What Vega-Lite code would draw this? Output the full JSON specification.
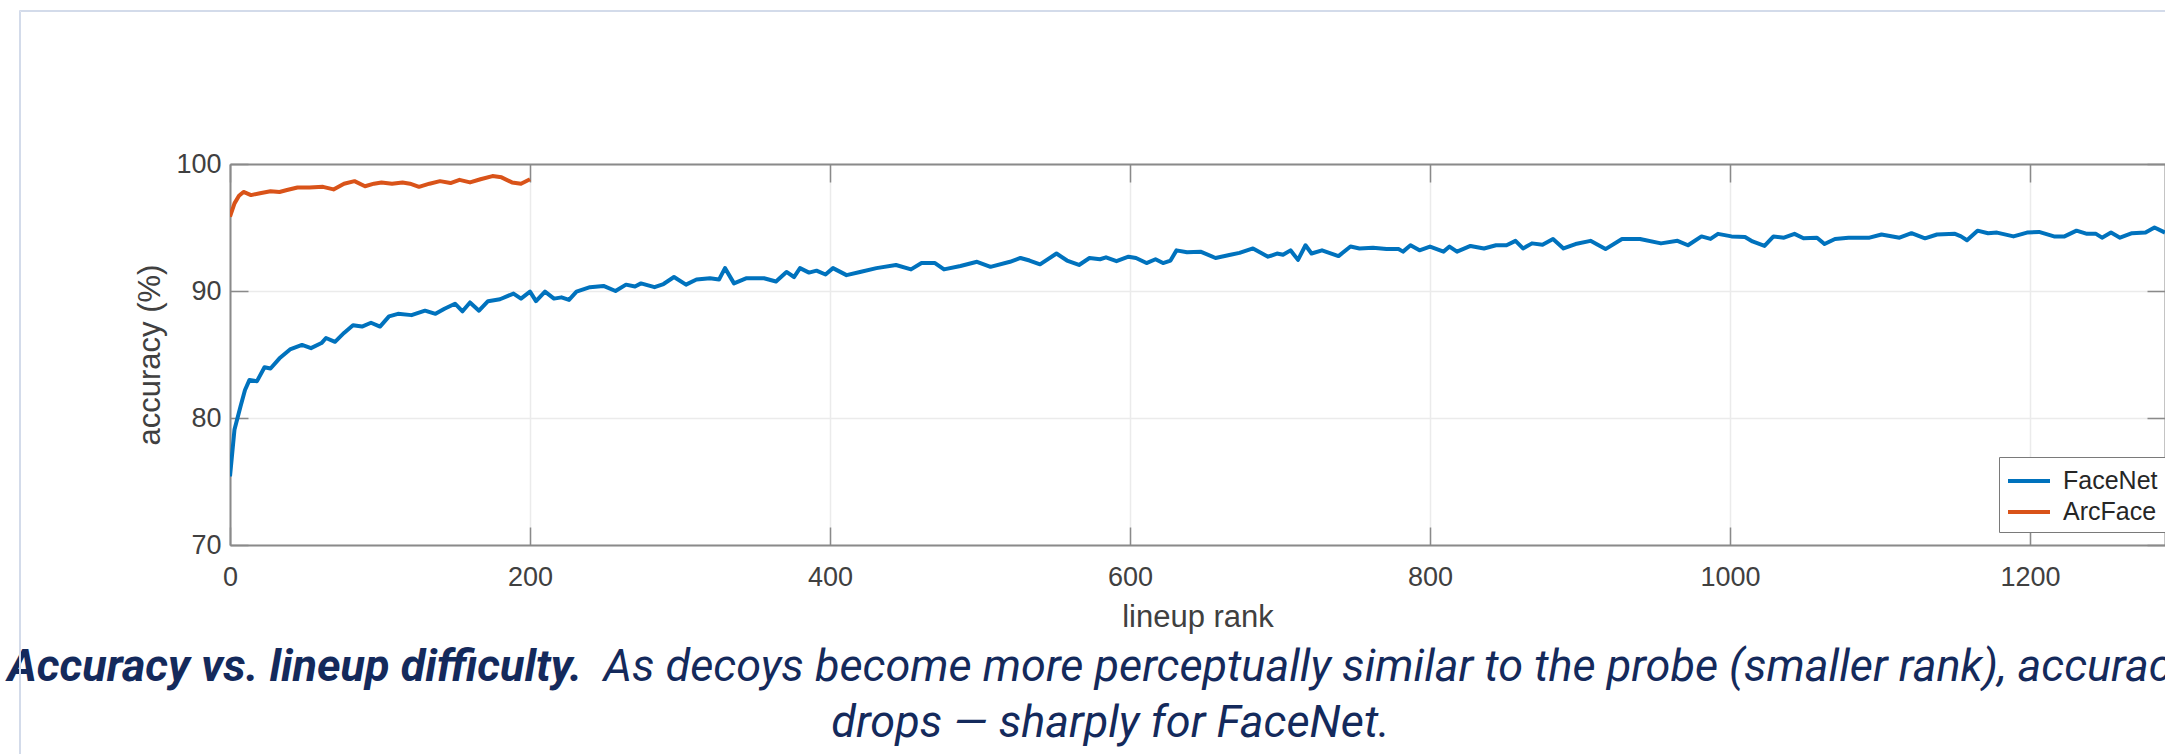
{
  "$schema": "https://vega.github.io/schema/vega-lite/v6.json",
  "width": 1935,
  "height": 381,
  "autosize": {"type": "none"},
  "padding": {"left": 230, "top": 164, "right": 0, "bottom": 209},
  "background": "white",
  "config": {"view": {"stroke": null}},
  "datasets": {
    "curves": [
      {"model": "FaceNet", "rank": 0, "accuracy": 75.4},
      {"model": "FaceNet", "rank": 3, "accuracy": 79.1},
      {"model": "FaceNet", "rank": 7, "accuracy": 80.9},
      {"model": "FaceNet", "rank": 10, "accuracy": 82.2},
      {"model": "FaceNet", "rank": 13, "accuracy": 83.0},
      {"model": "FaceNet", "rank": 18, "accuracy": 82.9},
      {"model": "FaceNet", "rank": 23, "accuracy": 84.0},
      {"model": "FaceNet", "rank": 27, "accuracy": 83.9},
      {"model": "FaceNet", "rank": 33, "accuracy": 84.7},
      {"model": "FaceNet", "rank": 40, "accuracy": 85.4},
      {"model": "FaceNet", "rank": 48, "accuracy": 85.75},
      {"model": "FaceNet", "rank": 54, "accuracy": 85.5},
      {"model": "FaceNet", "rank": 61, "accuracy": 85.9},
      {"model": "FaceNet", "rank": 64, "accuracy": 86.3},
      {"model": "FaceNet", "rank": 70, "accuracy": 86.0},
      {"model": "FaceNet", "rank": 76, "accuracy": 86.7},
      {"model": "FaceNet", "rank": 82, "accuracy": 87.3},
      {"model": "FaceNet", "rank": 88, "accuracy": 87.2},
      {"model": "FaceNet", "rank": 94, "accuracy": 87.5},
      {"model": "FaceNet", "rank": 100, "accuracy": 87.2},
      {"model": "FaceNet", "rank": 106, "accuracy": 88.0},
      {"model": "FaceNet", "rank": 112, "accuracy": 88.2},
      {"model": "FaceNet", "rank": 121, "accuracy": 88.1},
      {"model": "FaceNet", "rank": 130, "accuracy": 88.45},
      {"model": "FaceNet", "rank": 137, "accuracy": 88.2},
      {"model": "FaceNet", "rank": 143, "accuracy": 88.6},
      {"model": "FaceNet", "rank": 150, "accuracy": 89.0},
      {"model": "FaceNet", "rank": 155, "accuracy": 88.4},
      {"model": "FaceNet", "rank": 160, "accuracy": 89.1},
      {"model": "FaceNet", "rank": 166, "accuracy": 88.45},
      {"model": "FaceNet", "rank": 172, "accuracy": 89.2},
      {"model": "FaceNet", "rank": 180, "accuracy": 89.35},
      {"model": "FaceNet", "rank": 189, "accuracy": 89.8},
      {"model": "FaceNet", "rank": 194, "accuracy": 89.4},
      {"model": "FaceNet", "rank": 200, "accuracy": 89.95},
      {"model": "FaceNet", "rank": 204, "accuracy": 89.2},
      {"model": "FaceNet", "rank": 210, "accuracy": 89.95},
      {"model": "FaceNet", "rank": 216, "accuracy": 89.4},
      {"model": "FaceNet", "rank": 221, "accuracy": 89.5},
      {"model": "FaceNet", "rank": 226, "accuracy": 89.3},
      {"model": "FaceNet", "rank": 231, "accuracy": 89.95},
      {"model": "FaceNet", "rank": 240, "accuracy": 90.3},
      {"model": "FaceNet", "rank": 249, "accuracy": 90.4},
      {"model": "FaceNet", "rank": 257, "accuracy": 90.0},
      {"model": "FaceNet", "rank": 264, "accuracy": 90.5},
      {"model": "FaceNet", "rank": 270, "accuracy": 90.35},
      {"model": "FaceNet", "rank": 274, "accuracy": 90.6},
      {"model": "FaceNet", "rank": 283, "accuracy": 90.3},
      {"model": "FaceNet", "rank": 289, "accuracy": 90.55},
      {"model": "FaceNet", "rank": 296, "accuracy": 91.1},
      {"model": "FaceNet", "rank": 304, "accuracy": 90.5},
      {"model": "FaceNet", "rank": 311, "accuracy": 90.9},
      {"model": "FaceNet", "rank": 320, "accuracy": 91.0},
      {"model": "FaceNet", "rank": 326, "accuracy": 90.9},
      {"model": "FaceNet", "rank": 330, "accuracy": 91.8},
      {"model": "FaceNet", "rank": 336, "accuracy": 90.6},
      {"model": "FaceNet", "rank": 344, "accuracy": 91.0},
      {"model": "FaceNet", "rank": 356, "accuracy": 91.0},
      {"model": "FaceNet", "rank": 364, "accuracy": 90.75},
      {"model": "FaceNet", "rank": 371, "accuracy": 91.5},
      {"model": "FaceNet", "rank": 376, "accuracy": 91.1},
      {"model": "FaceNet", "rank": 380, "accuracy": 91.8},
      {"model": "FaceNet", "rank": 386, "accuracy": 91.45},
      {"model": "FaceNet", "rank": 391, "accuracy": 91.6},
      {"model": "FaceNet", "rank": 397, "accuracy": 91.3},
      {"model": "FaceNet", "rank": 402, "accuracy": 91.8},
      {"model": "FaceNet", "rank": 411, "accuracy": 91.25},
      {"model": "FaceNet", "rank": 420, "accuracy": 91.5},
      {"model": "FaceNet", "rank": 431, "accuracy": 91.8},
      {"model": "FaceNet", "rank": 444, "accuracy": 92.05},
      {"model": "FaceNet", "rank": 454, "accuracy": 91.7},
      {"model": "FaceNet", "rank": 461, "accuracy": 92.2},
      {"model": "FaceNet", "rank": 470, "accuracy": 92.2},
      {"model": "FaceNet", "rank": 476, "accuracy": 91.7},
      {"model": "FaceNet", "rank": 487, "accuracy": 91.97},
      {"model": "FaceNet", "rank": 498, "accuracy": 92.3},
      {"model": "FaceNet", "rank": 507, "accuracy": 91.9},
      {"model": "FaceNet", "rank": 520, "accuracy": 92.3},
      {"model": "FaceNet", "rank": 527, "accuracy": 92.6},
      {"model": "FaceNet", "rank": 533, "accuracy": 92.4},
      {"model": "FaceNet", "rank": 540, "accuracy": 92.1},
      {"model": "FaceNet", "rank": 551, "accuracy": 92.95},
      {"model": "FaceNet", "rank": 558, "accuracy": 92.4},
      {"model": "FaceNet", "rank": 566, "accuracy": 92.05},
      {"model": "FaceNet", "rank": 573, "accuracy": 92.6},
      {"model": "FaceNet", "rank": 580, "accuracy": 92.5},
      {"model": "FaceNet", "rank": 584, "accuracy": 92.65},
      {"model": "FaceNet", "rank": 591, "accuracy": 92.35},
      {"model": "FaceNet", "rank": 599, "accuracy": 92.7},
      {"model": "FaceNet", "rank": 604, "accuracy": 92.6},
      {"model": "FaceNet", "rank": 611, "accuracy": 92.2},
      {"model": "FaceNet", "rank": 617, "accuracy": 92.5},
      {"model": "FaceNet", "rank": 622, "accuracy": 92.2},
      {"model": "FaceNet", "rank": 627, "accuracy": 92.4},
      {"model": "FaceNet", "rank": 631, "accuracy": 93.2},
      {"model": "FaceNet", "rank": 638, "accuracy": 93.05},
      {"model": "FaceNet", "rank": 647, "accuracy": 93.1},
      {"model": "FaceNet", "rank": 657, "accuracy": 92.6},
      {"model": "FaceNet", "rank": 667, "accuracy": 92.85},
      {"model": "FaceNet", "rank": 673, "accuracy": 93.0},
      {"model": "FaceNet", "rank": 682, "accuracy": 93.35},
      {"model": "FaceNet", "rank": 692, "accuracy": 92.7},
      {"model": "FaceNet", "rank": 698, "accuracy": 92.95},
      {"model": "FaceNet", "rank": 702, "accuracy": 92.85},
      {"model": "FaceNet", "rank": 707, "accuracy": 93.2},
      {"model": "FaceNet", "rank": 712, "accuracy": 92.45},
      {"model": "FaceNet", "rank": 717, "accuracy": 93.6},
      {"model": "FaceNet", "rank": 721, "accuracy": 92.95},
      {"model": "FaceNet", "rank": 728, "accuracy": 93.2},
      {"model": "FaceNet", "rank": 739, "accuracy": 92.75},
      {"model": "FaceNet", "rank": 747, "accuracy": 93.5},
      {"model": "FaceNet", "rank": 753, "accuracy": 93.35},
      {"model": "FaceNet", "rank": 762, "accuracy": 93.4},
      {"model": "FaceNet", "rank": 771, "accuracy": 93.3},
      {"model": "FaceNet", "rank": 779, "accuracy": 93.3},
      {"model": "FaceNet", "rank": 782, "accuracy": 93.1},
      {"model": "FaceNet", "rank": 787, "accuracy": 93.6},
      {"model": "FaceNet", "rank": 793, "accuracy": 93.2},
      {"model": "FaceNet", "rank": 800, "accuracy": 93.5},
      {"model": "FaceNet", "rank": 809, "accuracy": 93.1},
      {"model": "FaceNet", "rank": 813, "accuracy": 93.5},
      {"model": "FaceNet", "rank": 818, "accuracy": 93.1},
      {"model": "FaceNet", "rank": 827, "accuracy": 93.55},
      {"model": "FaceNet", "rank": 836, "accuracy": 93.35},
      {"model": "FaceNet", "rank": 844, "accuracy": 93.6},
      {"model": "FaceNet", "rank": 851, "accuracy": 93.6},
      {"model": "FaceNet", "rank": 857, "accuracy": 93.95},
      {"model": "FaceNet", "rank": 862, "accuracy": 93.35},
      {"model": "FaceNet", "rank": 868, "accuracy": 93.75},
      {"model": "FaceNet", "rank": 875, "accuracy": 93.65},
      {"model": "FaceNet", "rank": 882, "accuracy": 94.1},
      {"model": "FaceNet", "rank": 889, "accuracy": 93.35},
      {"model": "FaceNet", "rank": 897, "accuracy": 93.7},
      {"model": "FaceNet", "rank": 907, "accuracy": 93.95},
      {"model": "FaceNet", "rank": 917, "accuracy": 93.3},
      {"model": "FaceNet", "rank": 928, "accuracy": 94.1},
      {"model": "FaceNet", "rank": 940, "accuracy": 94.1},
      {"model": "FaceNet", "rank": 954, "accuracy": 93.75},
      {"model": "FaceNet", "rank": 965, "accuracy": 93.95},
      {"model": "FaceNet", "rank": 972, "accuracy": 93.6},
      {"model": "FaceNet", "rank": 981, "accuracy": 94.3},
      {"model": "FaceNet", "rank": 987, "accuracy": 94.1},
      {"model": "FaceNet", "rank": 992, "accuracy": 94.5},
      {"model": "FaceNet", "rank": 1001, "accuracy": 94.3},
      {"model": "FaceNet", "rank": 1010, "accuracy": 94.25},
      {"model": "FaceNet", "rank": 1015, "accuracy": 93.9},
      {"model": "FaceNet", "rank": 1023, "accuracy": 93.55},
      {"model": "FaceNet", "rank": 1029, "accuracy": 94.3},
      {"model": "FaceNet", "rank": 1036, "accuracy": 94.2},
      {"model": "FaceNet", "rank": 1043, "accuracy": 94.5},
      {"model": "FaceNet", "rank": 1049, "accuracy": 94.15},
      {"model": "FaceNet", "rank": 1058, "accuracy": 94.2},
      {"model": "FaceNet", "rank": 1063, "accuracy": 93.7},
      {"model": "FaceNet", "rank": 1070, "accuracy": 94.1},
      {"model": "FaceNet", "rank": 1079, "accuracy": 94.2},
      {"model": "FaceNet", "rank": 1093, "accuracy": 94.2},
      {"model": "FaceNet", "rank": 1101, "accuracy": 94.45},
      {"model": "FaceNet", "rank": 1113, "accuracy": 94.2},
      {"model": "FaceNet", "rank": 1121, "accuracy": 94.55},
      {"model": "FaceNet", "rank": 1130, "accuracy": 94.15},
      {"model": "FaceNet", "rank": 1138, "accuracy": 94.45},
      {"model": "FaceNet", "rank": 1150, "accuracy": 94.5},
      {"model": "FaceNet", "rank": 1154, "accuracy": 94.3},
      {"model": "FaceNet", "rank": 1158, "accuracy": 94.0},
      {"model": "FaceNet", "rank": 1165, "accuracy": 94.75},
      {"model": "FaceNet", "rank": 1172, "accuracy": 94.55},
      {"model": "FaceNet", "rank": 1178, "accuracy": 94.6},
      {"model": "FaceNet", "rank": 1189, "accuracy": 94.3},
      {"model": "FaceNet", "rank": 1198, "accuracy": 94.6},
      {"model": "FaceNet", "rank": 1206, "accuracy": 94.65},
      {"model": "FaceNet", "rank": 1216, "accuracy": 94.3},
      {"model": "FaceNet", "rank": 1223, "accuracy": 94.3},
      {"model": "FaceNet", "rank": 1231, "accuracy": 94.75},
      {"model": "FaceNet", "rank": 1238, "accuracy": 94.5},
      {"model": "FaceNet", "rank": 1244, "accuracy": 94.5},
      {"model": "FaceNet", "rank": 1248, "accuracy": 94.2},
      {"model": "FaceNet", "rank": 1254, "accuracy": 94.6},
      {"model": "FaceNet", "rank": 1260, "accuracy": 94.2},
      {"model": "FaceNet", "rank": 1268, "accuracy": 94.55},
      {"model": "FaceNet", "rank": 1277, "accuracy": 94.6},
      {"model": "FaceNet", "rank": 1283, "accuracy": 95.0},
      {"model": "FaceNet", "rank": 1290, "accuracy": 94.6},
      {"model": "ArcFace", "rank": 0, "accuracy": 95.85},
      {"model": "ArcFace", "rank": 3, "accuracy": 96.9},
      {"model": "ArcFace", "rank": 6, "accuracy": 97.5},
      {"model": "ArcFace", "rank": 9, "accuracy": 97.8},
      {"model": "ArcFace", "rank": 14, "accuracy": 97.55},
      {"model": "ArcFace", "rank": 20, "accuracy": 97.7},
      {"model": "ArcFace", "rank": 27, "accuracy": 97.85},
      {"model": "ArcFace", "rank": 33, "accuracy": 97.8},
      {"model": "ArcFace", "rank": 38, "accuracy": 97.95},
      {"model": "ArcFace", "rank": 45, "accuracy": 98.15},
      {"model": "ArcFace", "rank": 53, "accuracy": 98.15},
      {"model": "ArcFace", "rank": 62, "accuracy": 98.2},
      {"model": "ArcFace", "rank": 69, "accuracy": 98.0},
      {"model": "ArcFace", "rank": 76, "accuracy": 98.45},
      {"model": "ArcFace", "rank": 83, "accuracy": 98.65},
      {"model": "ArcFace", "rank": 90, "accuracy": 98.25},
      {"model": "ArcFace", "rank": 96, "accuracy": 98.45},
      {"model": "ArcFace", "rank": 101, "accuracy": 98.55},
      {"model": "ArcFace", "rank": 108, "accuracy": 98.45},
      {"model": "ArcFace", "rank": 115, "accuracy": 98.55},
      {"model": "ArcFace", "rank": 120, "accuracy": 98.45},
      {"model": "ArcFace", "rank": 126, "accuracy": 98.2},
      {"model": "ArcFace", "rank": 133, "accuracy": 98.45},
      {"model": "ArcFace", "rank": 140, "accuracy": 98.65},
      {"model": "ArcFace", "rank": 147, "accuracy": 98.5},
      {"model": "ArcFace", "rank": 153, "accuracy": 98.75},
      {"model": "ArcFace", "rank": 160, "accuracy": 98.55},
      {"model": "ArcFace", "rank": 167, "accuracy": 98.8},
      {"model": "ArcFace", "rank": 175, "accuracy": 99.05},
      {"model": "ArcFace", "rank": 181, "accuracy": 98.95},
      {"model": "ArcFace", "rank": 188, "accuracy": 98.55},
      {"model": "ArcFace", "rank": 194, "accuracy": 98.45},
      {"model": "ArcFace", "rank": 200, "accuracy": 98.8}
    ]
  },
  "data": {"name": "curves"},
  "resolve": {"axis": {"x": "independent", "y": "independent"}},
  "layer": [
    {
      "mark": {"type": "line", "strokeWidth": 4, "strokeJoin": "round", "clip": true},
      "encoding": {
        "x": {
          "field": "rank", "type": "quantitative",
          "scale": {"domain": [0, 1290], "nice": false, "zero": false},
          "axis": {
            "orient": "bottom", "values": [0, 200, 400, 600, 800, 1000, 1200], "format": "d",
            "title": "lineup rank",
            "grid": true, "gridColor": "#ebebeb", "gridWidth": 1.5,
            "domainColor": "#8a8a8a", "domainWidth": 2,
            "tickColor": "#8a8a8a", "tickWidth": 1.5, "tickSize": -18,
            "labelPadding": 37, "labelFont": "Liberation Sans", "labelFontSize": 27,
            "labelColor": "#404040", "labelFlush": false, "labelOverlap": false,
            "titleFont": "Liberation Sans", "titleFontSize": 31, "titleFontWeight": "normal",
            "titleColor": "#404040", "titleX": 967.5, "titleY": 72,
            "titleBaseline": "middle", "titleAlign": "center"
          }
        },
        "y": {
          "field": "accuracy", "type": "quantitative",
          "scale": {"domain": [70, 100], "nice": false, "zero": false},
          "axis": {
            "orient": "left", "values": [70, 80, 90, 100], "format": "d",
            "title": "accuracy (%)",
            "grid": true, "gridColor": "#ebebeb", "gridWidth": 1.5,
            "domainColor": "#8a8a8a", "domainWidth": 2,
            "tickColor": "#8a8a8a", "tickWidth": 1.5, "tickSize": -18,
            "labelPadding": 27, "labelFont": "Liberation Sans", "labelFontSize": 27,
            "labelColor": "#404040", "labelFlush": false, "labelOverlap": false,
            "titleFont": "Liberation Sans", "titleFontSize": 31, "titleFontWeight": "normal",
            "titleColor": "#404040", "titleX": -80, "titleY": 190.5,
            "titleAngle": -90, "titleBaseline": "middle", "titleAlign": "center"
          }
        },
        "color": {
          "field": "model", "type": "nominal",
          "scale": {"domain": ["FaceNet", "ArcFace"], "range": ["#0072BD", "#D95319"]},
          "legend": {
            "orient": "none", "legendX": 1769, "legendY": 293,
            "title": null, "strokeColor": "#7a7a7a", "fillColor": "white",
            "padding": 7, "symbolType": "M-1.4,0H1.4", "symbolSize": 900,
            "symbolStrokeWidth": 4, "symbolOffset": 6, "labelFont": "Liberation Sans",
            "labelFontSize": 25, "labelColor": "#262626", "labelOffset": 17,
            "rowPadding": 1, "cornerRadius": 0
          }
        }
      }
    },
    {
      "mark": {"type": "point", "fillOpacity": 0, "strokeOpacity": 0},
      "encoding": {
        "x": {
          "field": "rank", "type": "quantitative",
          "scale": {"domain": [0, 1290], "nice": false, "zero": false},
          "axis": {
            "orient": "top", "values": [0, 200, 400, 600, 800, 1000, 1200],
            "labels": false, "grid": false,
            "domainColor": "#8a8a8a", "domainWidth": 2,
            "tickColor": "#8a8a8a", "tickWidth": 1.5, "tickSize": -18,
            "title": "Accuracy vs. lineup difficulty.",
            "titleFont": "Roboto", "titleFontSize": 45, "titleFontStyle": "italic",
            "titleFontWeight": "bold", "titleColor": "#142a5c", "titleAngle": 0,
            "titleAlign": "left", "titleBaseline": "alphabetic",
            "titleX": -223, "titleY": 516
          }
        },
        "y": {
          "field": "accuracy", "type": "quantitative",
          "scale": {"domain": [70, 100], "nice": false, "zero": false},
          "axis": {
            "orient": "right", "values": [70, 80, 90, 100],
            "labels": false, "grid": false,
            "domainColor": "#8a8a8a", "domainWidth": 2,
            "tickColor": "#8a8a8a", "tickWidth": 1.5, "tickSize": -18,
            "title": "As decoys become more perceptually similar to the probe (smaller rank), accuracy",
            "titleFont": "Roboto", "titleFontSize": 45, "titleFontStyle": "italic",
            "titleFontWeight": "normal", "titleColor": "#142a5c", "titleAngle": 0,
            "titleAlign": "left", "titleBaseline": "alphabetic",
            "titleX": -1562, "titleY": 516
          }
        }
      }
    },
    {
      "mark": {"type": "point", "fillOpacity": 0, "strokeOpacity": 0},
      "encoding": {
        "x": {
          "field": "rank", "type": "quantitative",
          "scale": {"domain": [0, 1290], "nice": false, "zero": false},
          "axis": {
            "orient": "bottom", "domain": false, "ticks": false, "labels": false, "grid": false,
            "title": "drops — sharply for FaceNet.",
            "titleFont": "Roboto", "titleFontSize": 45, "titleFontStyle": "italic",
            "titleFontWeight": "normal", "titleColor": "#142a5c", "titleAngle": 0,
            "titleAlign": "center", "titleBaseline": "alphabetic",
            "titleX": 880, "titleY": 191
          }
        },
        "y": {
          "field": "accuracy", "type": "quantitative",
          "scale": {"domain": [70, 100], "nice": false, "zero": false},
          "axis": null
        },
        "shape": {
          "datum": "frame",
          "legend": {
            "orient": "none", "legendX": -211, "legendY": -154,
            "title": null, "padding": 1300, "strokeColor": "#d3dbea",
            "labelExpr": "''", "symbolOpacity": 0, "symbolSize": 1, "cornerRadius": 0
          }
        },
        "size": {
          "datum": "edge",
          "legend": {
            "orient": "none", "legendX": -210, "legendY": -153,
            "title": null, "padding": 1300, "strokeColor": "#d3dbea",
            "labelExpr": "''", "symbolOpacity": 0, "symbolSize": 1, "cornerRadius": 0
          }
        }
      }
    }
  ]
}
